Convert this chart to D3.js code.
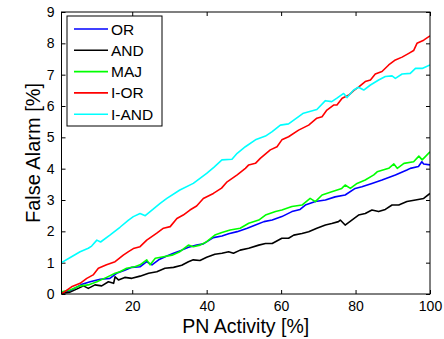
<!DOCTYPE html>
<html>
<head>
<meta charset="utf-8">
<script src="https://cdn.jsdelivr.net/npm/d3@7"></script>
<style>
  body { margin: 0; background: #fff; }
  svg { display: block; font-family: "Liberation Sans", Arial, sans-serif; }
</style>
</head>
<body>
<svg id="chart" width="444" height="339"></svg>
<script>
// values, [PN activity %, false alarm %]
const orData = [[1,0.03],[3.7,0.13],[6.3,0.3],[8.7,0.39],[11.4,0.47],[14,0.5],[15.8,0.66],[18,0.76],[19.9,0.85],[22.1,0.87],[23.9,1.03],[25.3,0.93],[27.1,1.09],[29.3,1.21],[31.1,1.3],[33.3,1.4],[35.1,1.49],[37.3,1.56],[39.1,1.6],[41.8,1.8],[44.1,1.85],[45.9,1.92],[48.2,1.99],[50.9,2.1],[53.1,2.2],[55.4,2.31],[57.6,2.36],[60.2,2.47],[62.9,2.63],[65.1,2.7],[66.5,2.84],[69.2,2.95],[71.9,3.0],[74.5,3.1],[77.2,3.16],[79.9,3.37],[81.7,3.42],[84.4,3.53],[87.1,3.64],[90.7,3.8],[93.8,3.96],[94.7,4.01],[96.9,4.07],[97.8,4.22],[98.3,4.15],[100,4.12]];
const andData = [[1,0.02],[3.3,0.06],[5.5,0.18],[6.9,0.26],[8.2,0.18],[10,0.29],[11.8,0.26],[13.6,0.39],[15,0.34],[15.4,0.55],[16.3,0.45],[18,0.53],[19.9,0.5],[22.1,0.57],[24.4,0.66],[26.6,0.71],[28.8,0.82],[31.1,0.85],[33.3,0.92],[35.1,1.03],[36.4,1.09],[38.2,1.07],[40,1.17],[42.2,1.27],[44.1,1.3],[45.9,1.35],[47.2,1.3],[49,1.4],[51.3,1.46],[54,1.56],[55.8,1.61],[57.6,1.61],[60.2,1.78],[62,1.78],[63.4,1.88],[65.6,1.93],[67.4,1.99],[69.6,2.1],[71.9,2.2],[73.6,2.25],[75.4,2.31],[75.9,2.36],[77.2,2.2],[79,2.36],[80.8,2.52],[82.6,2.57],[84.4,2.68],[86.2,2.63],[88,2.7],[89.8,2.84],[91.6,2.84],[93.8,2.95],[96.1,3.0],[98.3,3.05],[100,3.21]];
const majData = [[1,0.07],[3.3,0.13],[6,0.26],[8.2,0.29],[10.5,0.39],[13.1,0.53],[15.4,0.66],[16.7,0.71],[18.5,0.82],[20.7,0.87],[22.1,0.93],[23.9,1.09],[24.8,0.93],[26.2,1.14],[28.4,1.19],[30.7,1.24],[32.8,1.35],[35.1,1.56],[36.4,1.51],[38.2,1.56],[40,1.67],[42.2,1.88],[44.1,1.96],[46.3,2.04],[49,2.1],[51.3,2.26],[54,2.36],[55.8,2.52],[58.5,2.63],[60.2,2.68],[62.9,2.79],[65.6,2.84],[67.8,3.05],[69.2,2.95],[71,3.16],[73.6,3.26],[76.3,3.37],[77.2,3.48],[78.6,3.37],[80.4,3.53],[82.6,3.64],[84.9,3.8],[85.8,3.9],[88.9,4.01],[90.3,4.15],[91.2,4.01],[93,4.17],[95.6,4.22],[97,4.4],[97.9,4.28],[100,4.54]];
const iorData = [[1,0],[3.7,0.23],[6,0.34],[7.8,0.5],[9.5,0.61],[10.9,0.82],[13.1,0.93],[15.4,1.03],[17.6,1.24],[19,1.35],[20.3,1.45],[22.1,1.51],[23.9,1.72],[26.6,1.94],[28.4,2.1],[30.2,2.15],[32,2.41],[33.7,2.52],[35.5,2.68],[37.3,2.81],[39.1,3.05],[41.8,3.21],[44,3.38],[45.5,3.58],[48.2,3.8],[50.4,4.01],[51.3,4.12],[53.1,4.17],[54.4,4.33],[57.1,4.6],[58.9,4.7],[60.2,4.92],[62,5.02],[64.7,5.23],[67.4,5.39],[69.6,5.61],[71,5.66],[72.3,5.87],[74.1,6.03],[75,6.03],[76.4,6.25],[78.2,6.35],[79.5,6.49],[80.8,6.6],[82.6,6.78],[84,6.83],[85.3,7.02],[87.1,7.1],[88.9,7.31],[90.7,7.47],[92.5,7.56],[94.3,7.68],[95.6,7.77],[96.5,8.0],[98.3,8.1],[100,8.24]];
const iandData = [[1,1.0],[3.7,1.19],[6,1.35],[8.2,1.46],[9.1,1.53],[10.5,1.72],[11.5,1.66],[14,1.88],[16.7,2.13],[19,2.36],[20.3,2.47],[22.1,2.57],[23.5,2.5],[27.5,2.89],[29.3,3.05],[32.8,3.32],[36.4,3.53],[40,3.85],[42,4.05],[44.1,4.28],[46.8,4.3],[48.2,4.49],[50.4,4.7],[53.1,4.92],[55.8,5.04],[57.6,5.18],[59.8,5.39],[62,5.43],[63.4,5.55],[66,5.77],[69.6,5.89],[71.9,6.17],[73.6,6.14],[75,6.25],[76.8,6.4],[77.7,6.27],[79.5,6.51],[80.8,6.6],[82.2,6.51],[84,6.67],[86.2,6.83],[88,6.94],[89.8,6.96],[90.7,6.88],[92.5,7.02],[94.7,7.04],[96.1,7.2],[97.9,7.2],[100,7.31]];

const seriesNames = ["OR", "AND", "MAJ", "I-OR", "I-AND"];
const seriesColors = ["#0000ff", "#000000", "#00ff00", "#ff0000", "#00ffff"];
const seriesData = [orData, andData, majData, iorData, iandData];

const xTicks = [20, 40, 60, 80, 100];
const yTicks = [0, 1, 2, 3, 4, 5, 6, 7, 8, 9];

const margin = { left: 61.5, right: 14, top: 12, bottom: 45 };
const width = 444, height = 339;

const svg = d3.select("#chart");

const x = d3.scaleLinear().domain([1, 100]).range([margin.left, width - margin.right]);
const y = d3.scaleLinear().domain([0, 9]).range([height - margin.bottom, margin.top]);

const tickLen = 4;

// bottom / left axes with labels, ticks pointing inward
svg.append("g")
    .attr("transform", `translate(0,${y(0)})`)
    .call(d3.axisBottom(x).tickValues(xTicks).tickSizeInner(-tickLen).tickSizeOuter(0).tickPadding(7))
    .call(g => g.select(".domain").remove())
    .call(g => g.selectAll("text").attr("font-size", 14).attr("fill", "#000").attr("font-family", null));

svg.append("g")
    .attr("transform", `translate(${x(1)},0)`)
    .call(d3.axisLeft(y).tickValues(yTicks).tickSizeInner(-tickLen).tickSizeOuter(0).tickPadding(7))
    .call(g => g.select(".domain").remove())
    .call(g => g.selectAll("text").attr("font-size", 14).attr("fill", "#000").attr("font-family", null));

// top / right mirrored ticks
svg.append("g")
    .attr("transform", `translate(0,${y(9)})`)
    .call(d3.axisTop(x).tickValues(xTicks).tickSizeInner(-tickLen).tickSizeOuter(0).tickFormat(""))
    .call(g => g.select(".domain").remove());

svg.append("g")
    .attr("transform", `translate(${x(100)},0)`)
    .call(d3.axisRight(y).tickValues(yTicks).tickSizeInner(-tickLen).tickSizeOuter(0).tickFormat(""))
    .call(g => g.select(".domain").remove());

const line = d3.line().x(d => x(d[0])).y(d => y(d[1]));

svg.append("defs").append("clipPath").attr("id", "plot-clip")
    .append("rect")
    .attr("x", x(1)).attr("y", y(9))
    .attr("width", x(100) - x(1)).attr("height", y(0) - y(9));

svg.append("g")
    .attr("clip-path", "url(#plot-clip)")
    .selectAll("path")
    .data(seriesData)
    .join("path")
    .attr("fill", "none")
    .attr("stroke", (d, i) => seriesColors[i])
    .attr("stroke-width", 1.6)
    .attr("stroke-linejoin", "round")
    .attr("d", line);

// axes box
svg.append("rect")
    .attr("x", x(1)).attr("y", y(9))
    .attr("width", x(100) - x(1)).attr("height", y(0) - y(9))
    .attr("fill", "none")
    .attr("stroke", "#000")
    .attr("stroke-width", 1);

// axis titles
svg.append("text")
    .attr("x", (x(1) + x(100)) / 2)
    .attr("y", 333)
    .attr("text-anchor", "middle")
    .attr("font-size", 19.5)
    .text("PN Activity [%]");

svg.append("text")
    .attr("transform", `translate(40,${(y(0) + y(9)) / 2}) rotate(-90)`)
    .attr("text-anchor", "middle")
    .attr("font-size", 20)
    .text("False Alarm [%]");

// legend
const legend = svg.append("g").attr("transform", "translate(67,16)");
legend.append("rect")
    .attr("width", 95).attr("height", 110)
    .attr("fill", "#fff").attr("stroke", "#000").attr("stroke-width", 1);

const rows = legend.selectAll(".row")
    .data(seriesNames)
    .join("g")
    .attr("class", "row")
    .attr("transform", (d, i) => `translate(0,${13 + i * 21.3})`);

rows.append("line")
    .attr("x1", 7).attr("x2", 41)
    .attr("stroke", (d, i) => seriesColors[i])
    .attr("stroke-width", 1.6);

rows.append("text")
    .attr("x", 44)
    .attr("dy", "0.36em")
    .attr("font-size", 15.5)
    .text(d => d);
</script>
</body>
</html>
